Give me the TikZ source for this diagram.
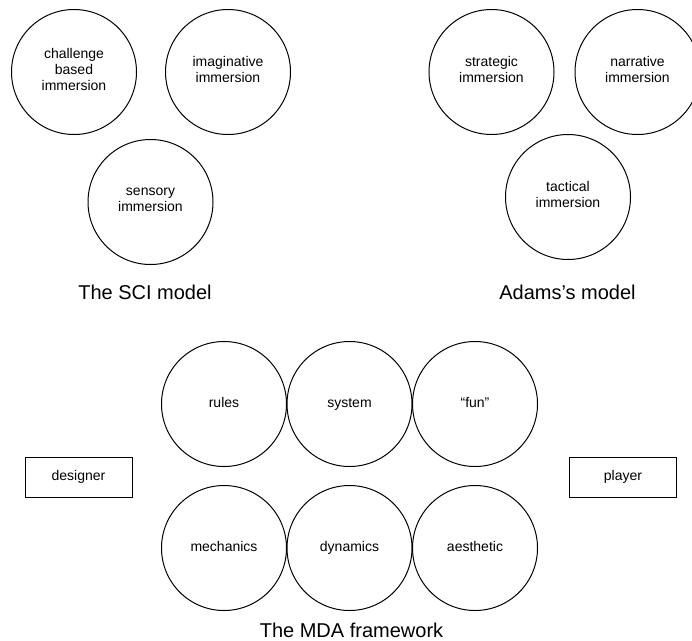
\documentclass[tikz,border=0pt]{standalone}
\usepackage{fontspec}
\setmainfont{Liberation Sans}
\begin{document}
\begin{tikzpicture}[x=1pt,y=-1pt,
  bubble/.style={circle,draw,line width=1pt,minimum size=125pt,inner sep=0pt,
    align=center,font=\fontsize{14}{16}\selectfont,
    execute at begin node={\strut},execute at end node={\strut}},
  actor/.style={rectangle,draw,line width=1pt,minimum width=107pt,minimum height=40pt,
    inner sep=0pt,font=\fontsize{14}{16}\selectfont,
    execute at begin node={\strut}},
  caption/.style={anchor=base,inner sep=0pt,font=\fontsize{20}{24}\selectfont}]
\useasboundingbox (0,0) rectangle (692,640);
\clip (0,0) rectangle (692,640);

% SCI model
\node[bubble] (chal) at (74,72)    {challenge\\based\\immersion};
\node[bubble] (imag) at (228,72)   {imaginative\\immersion};
\node[bubble] (sens) at (150.5,202) {sensory\\immersion};
\node[caption] (sci) at (145,299) {The SCI model};

% Adams's model
\node[bubble] (strat) at (491.5,72) {strategic\\immersion};
\node[bubble] (narr)  at (637.5,72) {narrative\\immersion};
\node[bubble] (tact)  at (568,197)  {tactical\\immersion};
\node[caption] (adams) at (567.5,299) {Adams’s model};

% MDA framework
\node[bubble] (rules) at (224,404)   {rules};
\node[bubble] (sys)   at (349.5,404) {system};
\node[bubble] (fun)   at (475,404)   {“fun”};
\node[bubble] (mech)  at (224,548)   {mechanics};
\node[bubble] (dyn)   at (349.5,548) {dynamics};
\node[bubble] (aest)  at (475,548)   {aesthetic};
\node[actor] (designer) at (78.5,477) {designer};
\node[actor] (player)   at (623,477)  {player};
\node[caption] (mda) at (351.5,637) {The MDA framework};
\end{tikzpicture}
\end{document}
